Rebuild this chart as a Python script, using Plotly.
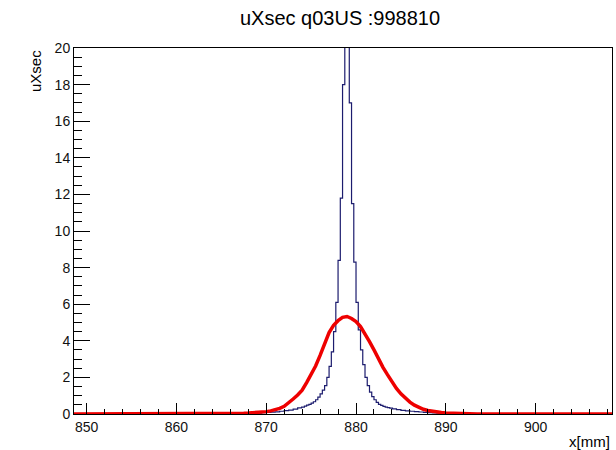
import plotly.graph_objects as go

# ---------------- data ----------------
title_text = "uXsec q03US :998810"
x_title = "x[mm]"
y_title = "uXsec"

hist_lo = 848.6
hist_hi = 908.6

# red (wide) histogram: bin centres and contents
red_x = [864.0, 864.5, 865.0, 865.5, 866.0, 866.5, 867.0, 867.5, 868.0, 868.5,
         869.0, 869.5, 870.0, 870.5, 871.0, 871.5, 872.0, 872.5, 873.0, 873.5,
         874.0, 874.5, 875.0, 875.5, 876.0, 876.5, 877.0, 877.5, 878.0, 878.5,
         879.0, 879.5, 880.0, 880.5, 881.0, 881.5, 882.0, 882.5, 883.0, 883.5,
         884.0, 884.5, 885.0, 885.5, 886.0, 886.5, 887.0, 887.5, 888.0, 888.5,
         889.0, 889.5, 890.0, 890.5, 891.0, 891.5, 892.0, 892.5, 893.0, 893.5]
red_y = [0.0, 0.01, 0.02, 0.02, 0.03, 0.03, 0.04, 0.04, 0.05, 0.06,
         0.08, 0.10, 0.13, 0.17, 0.23, 0.31, 0.42, 0.60, 0.82, 1.04,
         1.30, 1.72, 2.15, 2.62, 3.20, 3.80, 4.45, 4.85, 5.10, 5.28,
         5.33, 5.22, 5.05, 4.78, 4.40, 3.95, 3.50, 3.00, 2.55, 2.15,
         1.75, 1.40, 1.10, 0.85, 0.65, 0.48, 0.36, 0.26, 0.19, 0.14,
         0.11, 0.08, 0.06, 0.05, 0.04, 0.03, 0.02, 0.02, 0.01, 0.0]

# blue (narrow) histogram: bin centres and contents
blue_x = [864.5, 865.5, 866.5, 867.5, 868.25, 868.75, 869.25, 869.75, 870.25, 870.75,
          871.25, 871.75, 872.25, 872.75, 873.25, 873.75,
          874.125, 874.375, 874.625, 874.875, 875.125, 875.375, 875.625, 875.875,
          876.125, 876.375, 876.625, 876.875, 877.125, 877.375, 877.625, 877.875,
          878.125, 878.375, 878.625, 878.875,
          879.125, 879.375, 879.625, 879.875, 880.125, 880.375, 880.625, 880.875,
          881.125, 881.375, 881.625, 881.875, 882.125, 882.375, 882.625, 882.875,
          883.125, 883.375, 883.625, 883.875,
          884.25, 884.75, 885.25, 885.75, 886.25, 886.75, 887.25, 887.75,
          888.25, 888.75, 889.25, 889.75, 890.5, 891.5, 892.5, 893.5]
blue_y = [0.005, 0.01, 0.02, 0.03, 0.04, 0.045, 0.05, 0.07, 0.085, 0.10,
          0.12, 0.15, 0.18, 0.21, 0.27, 0.33,
          0.38, 0.43, 0.48, 0.53, 0.59, 0.67, 0.78, 0.92,
          1.10, 1.30, 1.55, 2.00, 2.60, 3.40, 4.50, 6.10,
          8.40, 11.8, 18.0, 32.0,
          30.0, 17.0, 11.5, 8.30, 6.10, 4.60, 3.50, 2.70,
          2.00, 1.55, 1.20, 0.95, 0.78, 0.64, 0.53, 0.47,
          0.42, 0.38, 0.35, 0.32,
          0.28, 0.24, 0.20, 0.17, 0.15, 0.13, 0.11, 0.09,
          0.075, 0.06, 0.05, 0.04, 0.03, 0.02, 0.01, 0.005]

# ---------------- figure ----------------
FONT = "Liberation Sans, Arial, Helvetica, sans-serif"

def padded(xs, ys):
    return [hist_lo] + xs + [hist_hi], [0.0] + ys + [0.0]

bx, by = padded(blue_x, blue_y)
rx, ry = padded(red_x, red_y)

fig = go.Figure()
fig.add_trace(go.Scatter(x=bx, y=by, mode="lines", line_shape="hvh",
                         line=dict(color="#1c1c6e", width=1.2), showlegend=False))
fig.add_trace(go.Scatter(x=rx, y=ry, mode="lines", line_shape="linear",
                         line=dict(color="#ee0000", width=3.5), showlegend=False))

fig.update_layout(
    width=616, height=450,
    margin=dict(l=74, r=4, t=48, b=36),
    paper_bgcolor="white", plot_bgcolor="white",
    font=dict(family=FONT, color="black"),
    title=dict(text=title_text, x=0.552, xref="container", xanchor="center",
               y=0.96, yref="container", yanchor="middle",
               font=dict(size=20, family=FONT, color="black")),
    xaxis=dict(range=[hist_lo, 908.5], tick0=850, dtick=10,
               ticks="inside", ticklen=11, tickcolor="black", tickwidth=1,
               minor=dict(dtick=2, tick0=850, ticks="inside", ticklen=5.5,
                          tickcolor="black", tickwidth=1, showgrid=False),
               showgrid=False, zeroline=False, showline=True, linecolor="black",
               linewidth=1, mirror=True, tickfont=dict(size=14, color="#111"),
               fixedrange=True),
    yaxis=dict(range=[0, 20], tick0=0, dtick=2,
               ticks="inside", ticklen=16, tickcolor="black", tickwidth=1,
               minor=dict(dtick=0.5, ticks="inside", ticklen=8,
                          tickcolor="black", tickwidth=1, showgrid=False),
               showgrid=False, zeroline=False, showline=True, linecolor="black",
               linewidth=1, mirror=True, tickfont=dict(size=14, color="#111"),
               fixedrange=True),
    annotations=[
        dict(text=y_title, textangle=-90, xref="paper", yref="paper",
             x=-0.0725, y=1.0, xanchor="center", yanchor="top", showarrow=False,
             font=dict(size=15, family=FONT, color="black")),
        dict(text=x_title, xref="paper", yref="paper",
             x=1.0, y=-0.0765, xanchor="right", yanchor="middle", showarrow=False,
             font=dict(size=15, family=FONT, color="black")),
    ],
)

fig.write_html("out.html",
               config={"displayModeBar": False},
               post_script="document.body.style.margin='0';document.body.style.padding='0';")
